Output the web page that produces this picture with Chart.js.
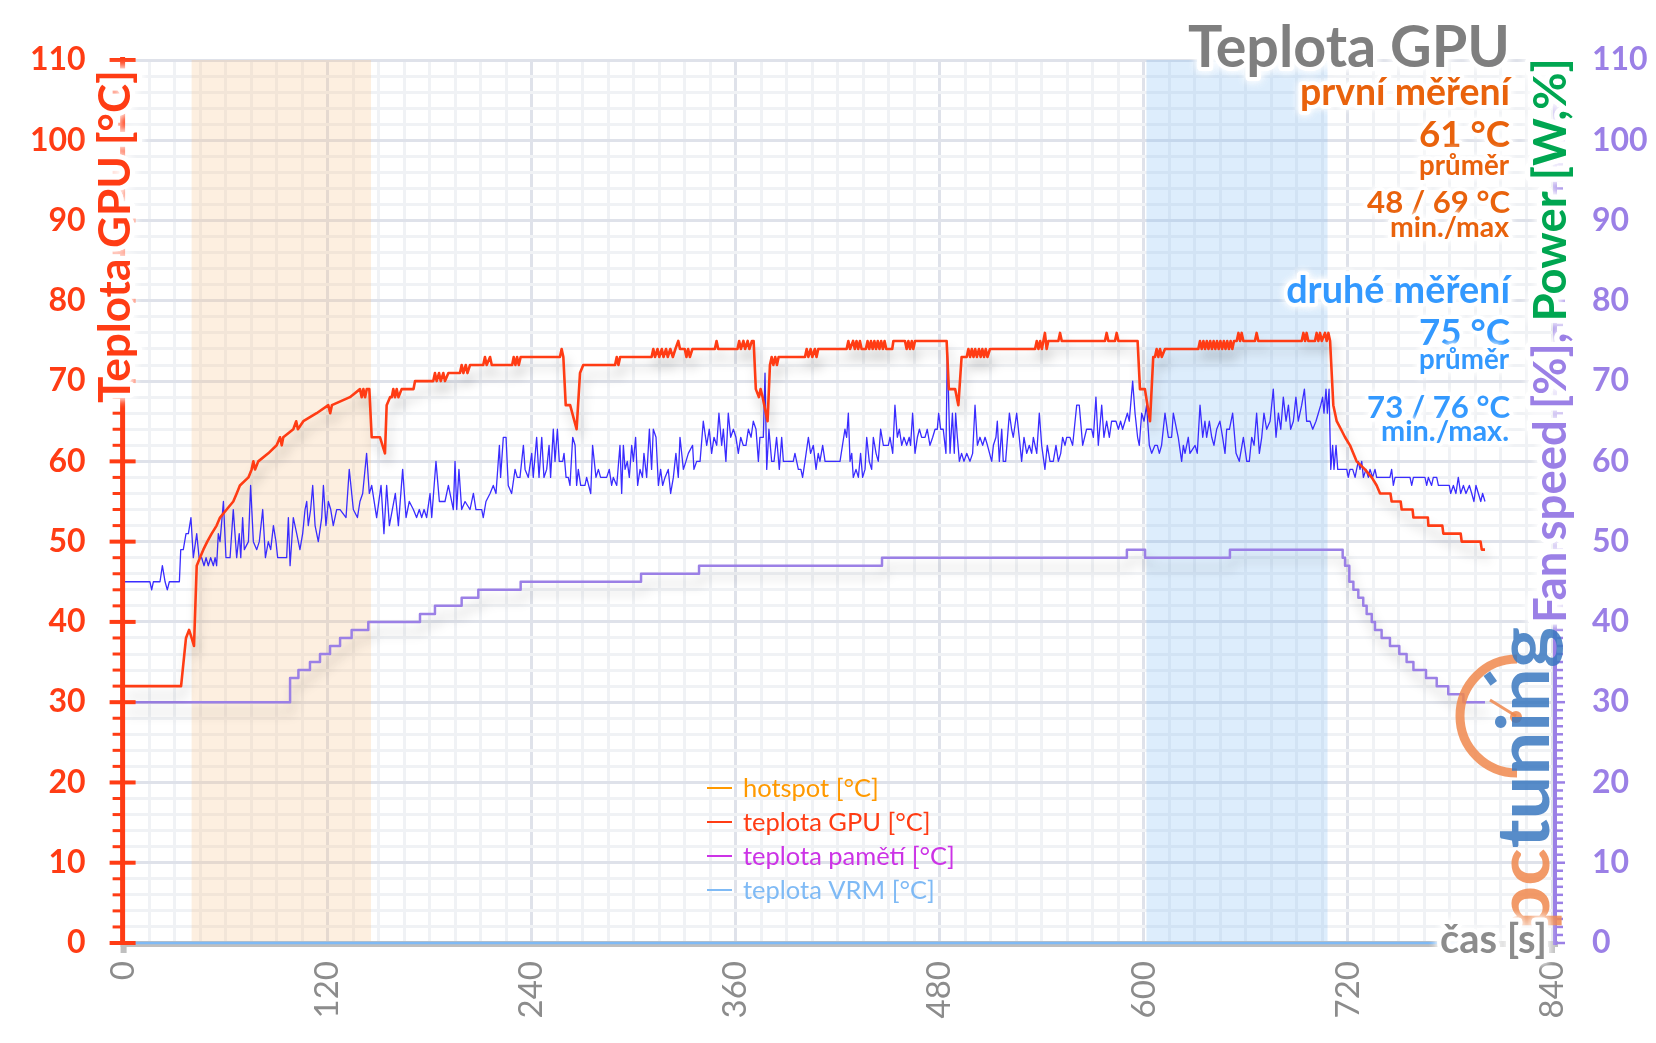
<!DOCTYPE html>
<html>
<head>
<meta charset="utf-8">
<title>Teplota GPU</title>
<script src="https://cdn.jsdelivr.net/npm/chart.js@4.4.1/dist/chart.umd.min.js"></script>
<style>
  html, body { margin: 0; padding: 0; background: #fff; }
  #wrap { width: 1656px; height: 1043px; }
  canvas { display: block; }
</style>
</head>
<body>
<div id="wrap"><canvas id="teplotachart" width="1656" height="1043"></canvas></div>
<script>
// time [s], GPU temperature [°C]
var gpuTemp = [[0,32],[33.8,32],[36.7,38],[38.5,39],[40,38],[41.4,37],[43,47],[44.9,48],[46.9,49],[49.2,50],[51.8,51],[54.7,52],[56.7,53],[60.6,54],[64.5,55],[66.5,56],[68.4,57],[73.4,58],[75.3,59],[76.3,60],[77.3,59],[79.2,60],[85.1,61],[90,62],[92,63],[93,62],[93.9,63],[99.8,64],[101.5,65],[102.5,64],[105.7,65],[113.5,66],[120.4,67],[121.5,66],[122.5,67],[133.1,68],[139,69],[140,68],[141,69],[142,68],[143,69],[144.5,69],[145.9,63],[150.8,63],[153.7,61],[154.7,67],[156.7,68],[157.7,68],[158.6,69],[159.6,68],[160.6,69],[161.6,68],[163.5,69],[170.5,69],[171.4,70],[182.1,70],[183.1,71],[184.1,70],[185.5,71],[186.5,70],[188,71],[189,70],[191,71],[197.8,71],[198.8,72],[199.8,71],[201.2,72],[202.2,71],[203.7,72],
  [211.5,72],[212.5,73],[213.5,72],[215.5,73],[216.5,72],[228.5,72],[229.4,73],[230.4,72],[231.4,73],[232.4,72],[233.5,73],[256.6,73],[257.6,74],[258.6,73],[260,67],[262.6,67],[266.4,64],[268.4,71],[270.3,72],[289,72],[290,73],[291,72],[292,73],[310.5,73],[311.5,74],[312.5,73],[314,74],[315,73],[316.5,74],[317.5,73],[319,74],[320,73],[321.5,74],[323,73],[324.5,74],[326.2,75],[327.2,74],[330,74],[331,73],[332,74],[333,73],[334.5,74],[347.7,74],[348.7,75],[349.7,74],[361,74],[362,75],[363,74],[364.5,75],[365.5,74],[367,75],[368,74],[369.5,75],[370.5,75],[371.8,69],[373.6,68],[374.6,69],[375.8,68],[378.7,65],[380.1,72],[381.1,73],[382.1,72],[383.2,73],[384.2,72],[385.2,73],[400.7,73],[401.7,74],[402.7,73],[404,74],[405,73],[406.5,74],[407.5,73],[408.5,74],[425.2,74],[426.2,75],[427.2,74],
  [429,75],[430,74],[431,75],[432,74],[433,75],[434,74],[436.5,74],[437.5,75],[438.5,74],[439.5,75],[440.5,74],[441.5,75],[442.5,74],[443.5,75],[444.5,74],[445.5,75],[446.5,74],[447.5,75],[448.5,74],[452,74],[452.7,75],[459.5,75],[460.5,74],[461.5,75],[462.5,74],[463.5,75],[464.4,74],[465.4,75],[484,75],[485.3,69],[489,69],[490.9,67],[492.8,73],[495.8,73],[496.8,74],[497.8,73],[498.8,74],[499.8,73],[500.8,74],[501.8,73],[503,74],[504,73],[505,74],[506,73],[507,74],[508,73],[509.5,74],[536,74],[537,75],[538,74],[539,75],[540,74],[541.8,76],[542.8,74],[543.8,75],[549.7,75],[550.7,76],[551.7,75],[577.1,75],[578.1,76],[579.1,75],[583,75],[584,76],[585,75],[596.3,75],[597.7,69],[600.6,69],[603.6,65],[605.5,73],[606.5,73],[607.5,74],[608.5,73],[609.5,74],[610.5,73],[612.4,74],[632,74],[633,75],[634,74],[635,75],[636,74],[637,75],[638,74],[639,75],[640,74],[641,75],[642,74],[643,75],[644,74],
  [645,75],[646,74],[647,75],[648,74],[649,75],[650,74],[651,75],[652,74],[653,75],[654.6,75],[655.6,76],[656.6,75],[657.5,76],[658.5,75],[665.3,75],[666.3,76],[667.3,75],[692.8,75],[693.8,76],[694.8,75],[695.7,76],[696.7,75],[700.6,75],[701.6,76],[702.6,75],[703.6,76],[704.6,75],[706.5,76],[707.5,75],[708.5,76],[709.5,75],[711.4,67],[713.4,65],[715.9,64],[718.3,63],[721.2,62],[725.1,60],[730,59],[734,58],[736.9,57],[738.9,56],[745,56],[745.7,55],[751,55],[751.6,54],[758,54],[758.5,53],[767,53],[767.3,52],[775.5,52],[776.1,51],[786.3,51],[786.9,50],[798,50],[798.7,49],[800.6,49]];

// time [s], power [W] (blue)
var powerDraw = [[0,45],[15.5,45],[16.5,44],[17.5,45],[21.4,45],[22.8,47],[24.4,45],[25.7,44],[26.9,45],[32.8,45],[33.6,49],[35.1,49],[36.7,51],[38.1,51],[39.6,53],[41,48],[43,51],[44.4,48],[45.9,48],[47.3,47],[48.5,48],[49.8,47],[51.2,48],[52.8,47],[53.8,48],[54.7,47],[55.7,51],[56.7,50],[58.7,55],[60.2,48],[62.6,48],[64.5,54],[66.5,48],[68,51],[68.9,48],[70,53],[71,49],[73.4,50],[74.7,57],[76.3,50],[78.3,49],[79.8,50],[81.8,54],[83.4,48],[85.1,50],[86.5,49],[88.1,52],[89.6,50],[90.6,48],[95.9,48],[96.9,53],[97.9,47],[99.8,53],[101.8,51],[103.7,49],[105.3,51],[106.7,54],[107.7,55],[108.6,52],[110,54],[111.2,57],[112.6,52],[114.5,50],[116.5,53],[117.5,57],[119,52],[120.4,55],[121.8,54],[123.3,52],[125.3,54],[127.3,54],[130.8,53],[132.7,59],[135.1,54],[137.5,53],[139,55],[140.6,56],[142.9,61],[144.5,56],[145.9,57],[148.8,53],[151.4,57],[153.1,51],[154.7,57],[156.3,52],[159.8,56],[161.6,52],[164.1,59],[166.1,53],[168,55],[170.4,54],[172.3,53],[173.9,54],[175.3,53],[176.7,54],[178.2,53],[180.2,56],[181.2,53],[183.7,60],[185.7,55],[189,55],[191,57],[193.9,54],[194.9,60],[195.9,54],[197.2,59],[198.8,54],[200.8,55],[203.7,54],
  [205.7,56],[207.2,54],[210.6,54],[211.5,53],[213.1,55],[215.5,56],[217.4,57],[219,56],[221,62],[221.7,58],[223.3,63],[224.9,63],[226.2,57],[228.2,56],[230.2,59],[231.5,58],[233.1,58],[235.1,62],[236.1,59],[238,58],[240,61],[240.9,58],[242.9,63],[244.3,58],[245.9,63],[247.2,58],[248.8,59],[250.2,62],[251.1,58],[252.7,64],[253.7,60],[255.1,64],[256.2,60],[258.2,60],[259,61],[260.2,58],[261.5,58],[262.5,57],[264.1,63],[265.5,62],[266.4,57],[267.4,59],[268.8,57],[271.3,57],[272.3,58],[274.7,56],[275.8,62],[277.8,58],[279.2,59],[280.5,58],[284.1,58],[285.6,59],[287,57],[288,58],[290,57],[291.9,62],[292.9,56],[293.9,62],[294.9,59],[296.2,60],[297.4,58],[298.8,62],[299.8,60],[301.1,63],[302.3,57],[303.7,59],[305.1,58],[306,61],[307.6,58],[309.2,64],[310.5,59],[311.5,64],[313.1,63],[314.5,57],[315.8,59],[317,57],[318.4,58],[320.3,59],[321.7,56],[323.3,58],[324.8,61],[326.2,58],[327.2,63],[329.2,59],[330.7,60],[332.1,61],[334.6,62],[335.4,59],[337,60],[339,60],[340.9,65],[342.9,62],[344.4,64],[345.8,61],[347.2,63],[348.8,62],[350.1,66],[351.7,62],[352.7,64],[354.2,60],[355.6,66],[357,63],[358.6,64],[360.1,63],[361.5,61],[362.9,63],[364.4,62],[366,62],[367.4,64],[369,63],[370.3,65],[371.9,64],[373.3,60],[374.2,63],[376.2,63],[377.2,71],[378.2,59],[379.5,64],[381.1,60],[382.5,60],[384,63],[385.6,59],[387,63],[388,60],[393.8,60],[394.8,61],[396.8,59],[398.3,59],[399.3,58],[400.7,60],[402.7,63],[404,61],[405.6,62],[407.2,59],[408.5,61],[409.5,60],[411.1,62],[412.5,60],[421.3,60],
  [424.2,64],[425.2,63],[426.2,66],[427.2,60],[428.2,61],[429.1,58],[430.7,59],[432.1,58],[433.4,61],[434.6,58],[436,59],[437,63],[438.5,60],[439.9,59],[440.9,63],[442.5,61],[443.8,60],[445.2,64],[446.8,62],[449.7,62],[450.7,63],[452.3,61],[453.6,67],[455,63],[456.2,64],[457.6,62],[458.9,63],[460.5,62],[462,63],[462.8,62],[464,66],[465.4,61],[466.8,63],[468,64],[469.3,63],[471.3,63],[472.6,64],[474.2,62],[475.8,63],[477.2,64],[478.5,64],[479.3,66],[480.5,64],[482,64],[483.6,61],[484.4,74],[486,61],[487.4,66],[488.5,61],[489.3,66],[490.3,63],[491.5,60],[492.8,61],[494.2,60],[495.8,61],[497.7,60],[499.3,61],[500.7,67],[502.1,62],[503.6,63],[505.2,62],[506.6,63],[508,62],[510.5,60],[511.5,62],[513,63],[513.8,65],[515,60],[516.4,64],[517.3,60],[518.7,60],[520.9,66],[522.2,64],[523.2,63],[525.2,66],[526.7,63],[528.1,60],[529.5,63],[531.1,61],[532.6,62],[534,61],[535,63],[537,61],[538.5,66],[539.9,62],[541.8,59],[543.2,62],[544.8,60],[546.7,60],[548.3,62],[549.7,60],[551.1,61],[552.2,63],[553.6,62],[554.6,63],[556.5,63],[558.1,62],[560.5,67],[562,67],[564,62],[566.3,64],[569.3,64],[570.3,63],[571.8,68],[573.2,62],[575.2,67],[576.5,63],[578.1,65],[579.7,63],[581,65],[583.6,65],[585,64],[586.3,65],[587.5,64],[588.9,65],[590.3,66],[591.4,65],[593.4,70],[594.8,66],[596.3,63],[597.3,62],[598.7,66],[600.1,65],[601.6,67],[603.2,62],[604.6,61],[606.5,62],[607.9,62],[609.1,61],[610.4,62],[612.4,66],[614.4,63],[616.3,63],[617.3,66],[620.2,63],[622.2,60],[623.2,62],[624.2,61],[626.1,63],[627.1,61],[630.1,62],[631.4,61],[633,67],[634.6,63],[635.9,65],[636.9,63],[638.5,65],[639.9,63],[641.2,62],[642.8,64],[644.7,65],
  [646.3,63],[647.7,61],[648.7,64],[650.3,64],[652.2,66],[654.2,61],[656.1,60],[658.5,63],[660.5,60],[662,60],[663.4,63],[664.8,62],[666.3,66],[667.9,61],[669.3,63],[670.6,66],[672.2,64],[674.2,65],[676.1,69],[677.7,63],[679.1,66],[680.5,64],[682,68],[683.6,65],[685,67],[686.3,64],[687.9,65],[689.4,68],[690.8,65],[692.8,67],[694.4,69],[695.7,65],[697.7,65],[699.3,64],[701.2,65],[702.6,66],[704,67],[705.1,68],[705.9,66],[707.1,69],[707.9,66],[708.9,69],[709.9,59],[711,62],[711.8,59],[713,62],[714,59],[719.3,59],[720.2,58],[721.2,59],[722.8,59],[724.2,58],[725.1,59],[726.1,60],[727.1,59],[728.1,60],[729.1,58],[730.6,59],[732,58],[733,59],[734.5,58],[735.9,59],[736.9,58],[744.7,58],[745.7,59],[746.7,57],[747.7,58],[756.5,58],[757.5,57],[758.5,58],[765.3,58],[766.3,57],[767.3,58],[769.2,57],[770.2,58],[772.2,58],[773.2,57],[779.6,57],[780.4,56],[782,57],[783.5,56],[784.9,58],[786.3,56],[787.9,57],[789.4,56],[791.4,57],[792.8,56],[794.1,55],[795.3,57],[796.7,56],[798.1,55],[799.2,56],[800.6,55]];

// time [s], fan speed [%] (value changes, drawn stepped)
var fanSpeed = [[0,30],[97.9,33],[102.8,34],[109.6,35],[115.5,36],[121.4,37],[127.3,38],[134.1,39],[143.9,40],[174.3,41],[183.1,42],[198.8,43],[208.6,44],[233.5,45],[304.3,46],[338.4,47],[446,48],[590,49],[600.7,48],[650.6,49],[715.3,49],[716.9,48],[718.3,47],[720.8,45],[723.2,44],[726.1,43],[729,42],[731,41],[734,40],[735.9,39],[739.8,38],[744.7,37],[750.2,36],[754.5,35],[758.5,34],[765.9,33],[772.2,32],[779,31],[787.9,30],[800.6,30]];

var vrmTemp = [[0,0],[800.6,0]];
var hotspotTemp = [];
var memTemp = [];

// highlighted runs [s]
var firstRun = [40, 145.5];
var secondRun = [601.5, 708];

var xStep = 15, xLabelStep = 120, xMax = 840;
var yStep = 2, yLabelStep = 10, yMax = 110;

var font = 'Lato, "Open Sans", sans-serif';

function fitSize(ctx, text, width, weight) {
  ctx.font = weight + ' 100px ' + font;
  return 100 * width / ctx.measureText(text).width;
}

function haloText(ctx, text, x, y, color, halo) {
  ctx.save();
  ctx.lineJoin = 'round';
  ctx.strokeStyle = 'rgba(255,255,255,0.95)';
  ctx.lineWidth = halo;
  ctx.shadowColor = '#fff';
  ctx.shadowBlur = halo;
  ctx.strokeText(text, x, y);
  ctx.strokeText(text, x, y);
  ctx.shadowBlur = 0;
  ctx.fillStyle = color;
  ctx.fillText(text, x, y);
  ctx.restore();
}

function fitText(ctx, text, xRight, baseline, width, color, halo) {
  var s = fitSize(ctx, text, width, 'bold');
  ctx.font = 'bold ' + s + 'px ' + font;
  ctx.textAlign = 'right';
  ctx.textBaseline = 'alphabetic';
  haloText(ctx, text, xRight, baseline, color, halo);
}

var decorations = {
  id: 'decorations',
  beforeDatasetsDraw: function(chart) {
    var ctx = chart.ctx, a = chart.chartArea, x = chart.scales.x;
    ctx.save();
    ctx.fillStyle = 'rgba(248,190,130,0.25)';
    ctx.fillRect(x.getPixelForValue(firstRun[0]), a.top, x.getPixelForValue(firstRun[1]) - x.getPixelForValue(firstRun[0]), a.bottom - a.top);
    ctx.fillStyle = 'rgba(120,185,245,0.25)';
    ctx.fillRect(x.getPixelForValue(secondRun[0]), a.top, x.getPixelForValue(secondRun[1]) - x.getPixelForValue(secondRun[0]), a.bottom - a.top);
    // x axis
    ctx.strokeStyle = '#bfbfbf';
    ctx.lineWidth = 6;
    ctx.beginPath();
    ctx.moveTo(a.left - 3, a.bottom + 1);
    ctx.lineTo(a.right + 6, a.bottom + 1);
    ctx.stroke();
    ctx.fillStyle = '#bfbfbf';
    ctx.fillRect(x.getPixelForValue(0) - 3, a.bottom, 6, 10);
    ctx.fillRect(x.getPixelForValue(xMax) - 3, a.bottom, 6, 10);
    ctx.restore();
  },
  beforeDatasetDraw: function(chart, args) {
    var ds = chart.data.datasets[args.index];
    var ctx = chart.ctx;
    ctx.save();
    if (ds.shadow) {
      ctx.shadowColor = 'rgba(0,0,0,0.22)';
      ctx.shadowBlur = 12;
      ctx.shadowOffsetX = 3;
      ctx.shadowOffsetY = 10;
    }
  },
  afterDatasetDraw: function(chart) {
    chart.ctx.restore();
  },
  afterDatasetsDraw: function(chart) {
    var ctx = chart.ctx, a = chart.chartArea, y = chart.scales.y, y2 = chart.scales.y2;
    ctx.save();
    // left axis
    var red = '#ff3c14';
    ctx.strokeStyle = red;
    ctx.lineWidth = 5;
    ctx.beginPath();
    ctx.moveTo(a.left - 1, a.top - 3);
    ctx.lineTo(a.left - 1, a.bottom + 2);
    ctx.stroke();
    for (var v = 0; v <= yMax; v += yStep) {
      var py = y.getPixelForValue(v);
      ctx.beginPath();
      if (v % yLabelStep === 0) {
        ctx.lineWidth = 4;
        ctx.moveTo(a.left - 14, py);
        ctx.lineTo(a.left + 12, py);
      } else {
        ctx.lineWidth = 3;
        ctx.moveTo(a.left - 11, py);
        ctx.lineTo(a.left, py);
      }
      ctx.stroke();
    }
    // right axis
    var purple = '#9b80e6';
    ctx.strokeStyle = purple;
    ctx.lineWidth = 4;
    ctx.beginPath();
    ctx.moveTo(a.right + 3, a.top);
    ctx.lineTo(a.right + 3, a.bottom + 2);
    ctx.stroke();
    ctx.lineWidth = 2.5;
    for (var w = 0; w <= yMax; w += 1) {
      var qy = y2.getPixelForValue(w);
      ctx.beginPath();
      ctx.moveTo(a.right + 3, qy);
      ctx.lineTo(a.right + (w % 10 === 0 ? 13 : 11), qy);
      ctx.stroke();
    }
    ctx.restore();
  },
  afterDraw: function(chart) {
    var ctx = chart.ctx, a = chart.chartArea;
    ctx.save();

    // left axis title
    var t1 = 'Teplota GPU [°C]';
    var s1 = fitSize(ctx, t1, 333, 'bold');
    ctx.save();
    ctx.translate(130, 403);
    ctx.rotate(-Math.PI / 2);
    ctx.font = 'bold ' + s1 + 'px ' + font;
    ctx.textAlign = 'left';
    ctx.textBaseline = 'alphabetic';
    haloText(ctx, t1, 0, 0, '#ff3c14', 10);
    ctx.restore();

    // right axis title
    var p1 = 'Fan speed [%], ', p2 = 'Power [W,%]';
    var s2 = fitSize(ctx, p1 + p2, 565, 'bold');
    ctx.save();
    ctx.translate(1566, 623);
    ctx.rotate(-Math.PI / 2);
    ctx.font = 'bold ' + s2 + 'px ' + font;
    ctx.textAlign = 'left';
    ctx.textBaseline = 'alphabetic';
    var w1 = ctx.measureText(p1).width;
    haloText(ctx, p1, 0, 0, '#9b80e6', 10);
    haloText(ctx, p2, w1, 0, '#00a651', 10);
    ctx.restore();

    // logo
    ctx.save();
    ctx.globalAlpha = 0.85;
    ctx.strokeStyle = '#f0884e';
    ctx.lineWidth = 9;
    ctx.beginPath();
    ctx.arc(1517, 716, 57, -Math.PI / 2, Math.PI / 2, true);
    ctx.stroke();
    ctx.strokeStyle = '#3a78c0';
    ctx.lineWidth = 8;
    ctx.beginPath();
    ctx.moveTo(1517 + 40 * Math.cos(-2.19), 716 + 40 * Math.sin(-2.19));
    ctx.lineTo(1517 + 52 * Math.cos(-2.19), 716 + 52 * Math.sin(-2.19));
    ctx.stroke();
    ctx.strokeStyle = '#f0884e';
    ctx.lineWidth = 3;
    ctx.beginPath();
    ctx.moveTo(1516, 716);
    ctx.lineTo(1490, 700);
    ctx.stroke();
    ctx.fillStyle = '#f0884e';
    ctx.beginPath();
    ctx.arc(1516, 717, 6, 0, Math.PI * 2);
    ctx.fill();
    ctx.translate(1549, 930);
    ctx.rotate(-Math.PI / 2);
    ctx.font = 'bold 72px ' + font;
    ctx.textBaseline = 'alphabetic';
    ctx.textAlign = 'left';
    var lw = ctx.measureText('pctuning').width;
    ctx.scale(303 / lw, 1);
    ctx.fillStyle = '#f0884e';
    ctx.fillText('pc', 0, 0);
    ctx.fillStyle = '#3a78c0';
    ctx.fillText('tuning', ctx.measureText('pc').width, 0);
    ctx.restore();

    // title block
    var orange = '#e9620c', blue = '#3399ff';
    fitText(ctx, 'Teplota GPU', 1510, 67, 322, '#7f7f7f', 8);
    fitText(ctx, 'první měření', 1510, 105, 210, orange, 7);
    fitText(ctx, '61 °C', 1510, 147, 91, orange, 7);
    fitText(ctx, 'průměr', 1509, 175, 90, orange, 7);
    fitText(ctx, '48 / 69 °C', 1510, 213, 143, orange, 7);
    fitText(ctx, 'min./max', 1509, 237, 119, orange, 7);
    fitText(ctx, 'druhé měření', 1510, 303, 224, blue, 7);
    fitText(ctx, '75 °C', 1510, 345, 91, blue, 7);
    fitText(ctx, 'průměr', 1509, 369, 90, blue, 7);
    fitText(ctx, '73 / 76 °C', 1510, 418, 143, blue, 7);
    fitText(ctx, 'min./max.', 1509, 441, 128, blue, 7);

    // x axis title
    fitText(ctx, 'čas [s]', 1547, 953, 107, '#8c8c8c', 8);

    // legend
    var items = chart.data.datasets.filter(function(d) { return d.inLegend; });
    ctx.font = '100px ' + font;
    var ls = 100 * 212 / ctx.measureText('teplota pamětí [°C]').width;
    ctx.font = ls + 'px ' + font;
    ctx.textAlign = 'left';
    ctx.textBaseline = 'middle';
    items.forEach(function(d, i) {
      var ly = 788 + i * 34;
      ctx.strokeStyle = d.borderColor;
      ctx.lineWidth = 2;
      ctx.beginPath();
      ctx.moveTo(707, ly);
      ctx.lineTo(732, ly);
      ctx.stroke();
      ctx.fillStyle = d.borderColor;
      ctx.fillText(d.label, 743, ly + 1);
    });
    ctx.restore();
  }
};

var ctx = document.getElementById('teplotachart').getContext('2d');
var chart = new Chart(ctx, {
  type: 'line',
  data: {
    datasets: [
      { label: 'hotspot [°C]', data: hotspotTemp, borderColor: '#ff9900', inLegend: true, order: 5 },
      { label: 'teplota GPU [°C]', data: gpuTemp, borderColor: '#ff3c14', borderWidth: 2.6, inLegend: true, shadow: true, order: 1 },
      { label: 'teplota pamětí [°C]', data: memTemp, borderColor: '#cc33e6', inLegend: true, order: 5 },
      { label: 'teplota VRM [°C]', data: vrmTemp, borderColor: '#7fbaf5', borderWidth: 2.5, inLegend: true, order: 0, clip: 6 },
      { label: 'power', data: powerDraw, borderColor: '#3a2cff', borderWidth: 1.3, yAxisID: 'y2', order: 2 },
      { label: 'fan', data: fanSpeed, borderColor: '#9b80e6', borderWidth: 2.5, stepped: true, yAxisID: 'y2', shadow: true, order: 3 }
    ]
  },
  options: {
    responsive: false,
    animation: false,
    devicePixelRatio: 1,
    elements: { point: { radius: 0 }, line: { tension: 0, borderJoinStyle: 'round' } },
    layout: { padding: { top: 60, left: 0, right: 0, bottom: 0 } },
    plugins: { legend: { display: false }, tooltip: { enabled: false }, title: { display: false } },
    scales: {
      x: {
        type: 'linear', min: 0, max: xMax,
        afterFit: function(s) { s.height = 100; },
        border: { display: false },
        grid: {
          drawTicks: false, lineWidth: 3,
          color: function(c) { return c.tick && c.tick.value % xLabelStep === 0 ? '#dfe2ea' : '#f0f2f5'; }
        },
        ticks: {
          stepSize: xStep, autoSkip: false, minRotation: 90, maxRotation: 90, padding: 18,
          color: '#8c8c8c', font: { family: font, size: 33 },
          callback: function(v) { return v % xLabelStep === 0 ? String(v) : ''; }
        }
      },
      y: {
        type: 'linear', position: 'left', min: 0, max: yMax,
        afterFit: function(s) { s.width = 123.6; },
        border: { display: false },
        grid: {
          drawTicks: false, lineWidth: 3,
          color: function(c) { return c.tick && c.tick.value % yLabelStep === 0 ? '#dfe2ea' : '#f0f2f5'; }
        },
        ticks: {
          stepSize: yStep, autoSkip: false, padding: 38,
          color: '#ff3c14', font: { family: font, size: 32, weight: 'bold' },
          callback: function(v) { return v % yLabelStep === 0 ? String(v) : ''; }
        }
      },
      y2: {
        type: 'linear', position: 'right', min: 0, max: yMax,
        afterFit: function(s) { s.width = 104; },
        border: { display: false },
        grid: { display: false, drawTicks: false },
        ticks: {
          stepSize: 10, padding: 40,
          color: '#9b80e6', font: { family: font, size: 32, weight: 'bold' }
        }
      }
    }
  },
  plugins: [decorations]
});
</script>
</body>
</html>
